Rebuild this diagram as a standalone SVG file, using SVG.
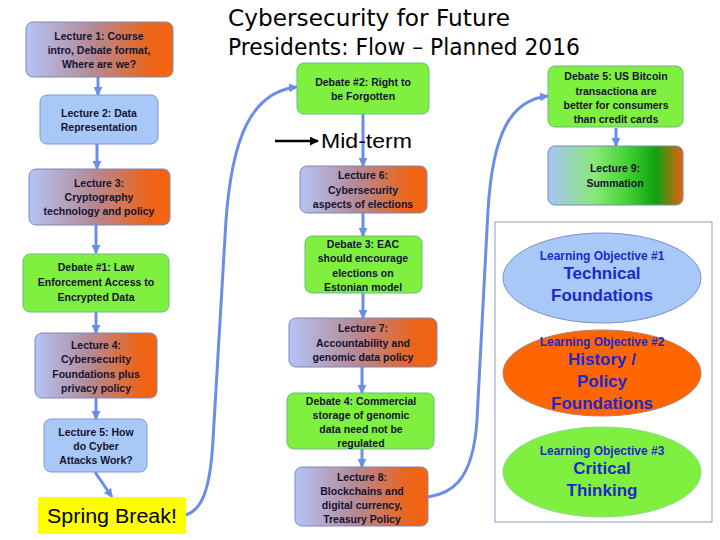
<svg xmlns="http://www.w3.org/2000/svg" width="720" height="540" viewBox="0 0 720 540">
<defs>
<linearGradient id="lec" x1="0" y1="0" x2="1" y2="0">
<stop offset="0" stop-color="#b4c4f6"/>
<stop offset="0.45" stop-color="#b48a96"/>
<stop offset="0.85" stop-color="#ec6418"/>
<stop offset="1" stop-color="#f46410"/>
</linearGradient>
<linearGradient id="sum" x1="0" y1="0" x2="1" y2="0">
<stop offset="0" stop-color="#a8c4f4"/>
<stop offset="0.35" stop-color="#88e878"/>
<stop offset="0.6" stop-color="#40d030"/>
<stop offset="0.8" stop-color="#10a010"/>
<stop offset="1" stop-color="#e86010"/>
</linearGradient>
<marker id="ah" viewBox="0 0 10 10" refX="9" refY="5" markerWidth="9" markerHeight="9" markerUnits="userSpaceOnUse" orient="auto">
<path d="M0,0 L10,5 L0,10 Z" fill="#6a8ee8"/>
</marker>
<marker id="bk" viewBox="0 0 10 10" refX="9" refY="5" markerWidth="9" markerHeight="9" markerUnits="userSpaceOnUse" orient="auto">
<path d="M0,0 L10,5 L0,10 Z" fill="#000"/>
</marker>
</defs>
<style>
.lec{fill:url(#lec);stroke:#7c88b8;stroke-width:1}
.blue{fill:#a8c8f8;stroke:#7c98d8;stroke-width:1}
.grn{fill:#80f040;stroke:#68b888;stroke-width:1}
.t{font-family:"Liberation Sans",Arial,sans-serif;font-size:10.5px;font-weight:bold;fill:#141430;text-anchor:middle}
.c{fill:none;stroke:#6a8ee8;stroke-width:3;marker-end:url(#ah)}
.lo{font-family:"Liberation Sans",Arial,sans-serif;font-weight:bold;fill:#2028c8;text-anchor:middle}
.ttl{font-family:"DejaVu Sans",sans-serif;font-size:23px;fill:#000}
</style>
<rect width="720" height="540" fill="#fff"/>

<g id="title">
<text class="ttl" x="228" y="26" textLength="282" lengthAdjust="spacingAndGlyphs">Cybersecurity for Future</text>
<text class="ttl" x="228" y="55" textLength="352" lengthAdjust="spacingAndGlyphs">Presidents: Flow – Planned 2016</text>
</g>

<g id="connectors">
<line class="c" x1="98" y1="77" x2="98" y2="95"/>
<line class="c" x1="97" y1="144" x2="97" y2="169"/>
<line class="c" x1="96" y1="225" x2="96" y2="253"/>
<line class="c" x1="96" y1="312" x2="96" y2="333"/>
<line class="c" x1="96" y1="398" x2="96" y2="419"/>
<line class="c" x1="95" y1="472" x2="112" y2="497"/>
<path class="c" d="M186,515 C200,510 210,495 213,440 L226,220 C232,140 250,92 297,87"/>
<line class="c" x1="363" y1="114" x2="363" y2="166"/>
<line class="c" x1="363" y1="213" x2="363" y2="236"/>
<line class="c" x1="363" y1="293" x2="363" y2="318"/>
<line class="c" x1="362" y1="367" x2="362" y2="393"/>
<line class="c" x1="362" y1="449" x2="362" y2="467"/>
<path class="c" d="M428,497 C448,494 473,485 477,420 L488,210 C493,130 512,100 548,96"/>
<line class="c" x1="616" y1="128" x2="616" y2="146"/>
<line x1="275" y1="141" x2="318" y2="141" stroke="#000" stroke-width="2.5" marker-end="url(#bk)"/>
</g>

<g id="midterm">
<text x="321" y="148" font-family="Liberation Sans,Arial,sans-serif" font-size="20" textLength="91" lengthAdjust="spacingAndGlyphs">Mid-term</text>
</g>

<g id="lecture1">
<rect class="lec" x="26" y="22" width="147" height="55" rx="7"/>
<text class="t" x="99" y="40">Lecture 1: Course</text>
<text class="t" x="99" y="54">intro, Debate format,</text>
<text class="t" x="99" y="68">Where are we?</text>
</g>
<g id="lecture2">
<rect class="blue" x="40" y="95" width="118" height="49" rx="7"/>
<text class="t" x="99" y="117">Lecture 2: Data</text>
<text class="t" x="99" y="131">Representation</text>
</g>
<g id="lecture3">
<rect class="lec" x="29" y="169" width="141" height="56" rx="7"/>
<text class="t" x="99" y="187">Lecture 3:</text>
<text class="t" x="99" y="201">Cryptography</text>
<text class="t" x="99" y="215">technology and policy</text>
</g>
<g id="debate1">
<rect class="grn" x="23" y="254" width="146" height="58" rx="7"/>
<text class="t" x="96" y="271">Debate #1: Law</text>
<text class="t" x="96" y="286">Enforcement Access to</text>
<text class="t" x="96" y="301">Encrypted Data</text>
</g>
<g id="lecture4">
<rect class="lec" x="35" y="333" width="122" height="65" rx="7"/>
<text class="t" x="96" y="349">Lecture 4:</text>
<text class="t" x="96" y="363">Cybersecurity</text>
<text class="t" x="96" y="378">Foundations plus</text>
<text class="t" x="96" y="392">privacy policy</text>
</g>
<g id="lecture5">
<rect class="blue" x="44" y="419" width="103" height="53" rx="7"/>
<text class="t" x="96" y="436">Lecture 5: How</text>
<text class="t" x="96" y="450">do Cyber</text>
<text class="t" x="96" y="464">Attacks Work?</text>
</g>
<g id="springbreak">
<rect x="38" y="497" width="148" height="37" fill="#ffff00"/>
<text x="112" y="523" font-family="Liberation Sans,Arial,sans-serif" font-size="21" text-anchor="middle" textLength="130" lengthAdjust="spacingAndGlyphs">Spring Break!</text>
</g>

<g id="debate2">
<rect class="grn" x="297" y="63" width="132" height="51" rx="7"/>
<text class="t" x="363" y="86">Debate #2: Right to</text>
<text class="t" x="363" y="100">be Forgotten</text>
</g>
<g id="lecture6">
<rect class="lec" x="300" y="166" width="127" height="47" rx="7"/>
<text class="t" x="363" y="179">Lecture 6:</text>
<text class="t" x="363" y="194">Cybersecurity</text>
<text class="t" x="363" y="208">aspects of elections</text>
</g>
<g id="debate3">
<rect class="grn" x="305" y="236" width="117" height="57" rx="7"/>
<text class="t" x="363" y="248">Debate 3: EAC</text>
<text class="t" x="363" y="262">should encourage</text>
<text class="t" x="363" y="277">elections on</text>
<text class="t" x="363" y="291">Estonian model</text>
</g>
<g id="lecture7">
<rect class="lec" x="289" y="318" width="148" height="49" rx="7"/>
<text class="t" x="363" y="332">Lecture 7:</text>
<text class="t" x="363" y="347">Accountability and</text>
<text class="t" x="363" y="361">genomic data policy</text>
</g>
<g id="debate4">
<rect class="grn" x="287" y="393" width="147" height="56" rx="7"/>
<text class="t" x="361" y="405">Debate 4: Commercial</text>
<text class="t" x="361" y="419">storage of genomic</text>
<text class="t" x="361" y="433">data need not be</text>
<text class="t" x="361" y="447">regulated</text>
</g>
<g id="lecture8">
<rect class="lec" x="295" y="467" width="133" height="59" rx="7"/>
<text class="t" x="362" y="481">Lecture 8:</text>
<text class="t" x="362" y="495">Blockchains and</text>
<text class="t" x="362" y="509">digital currency,</text>
<text class="t" x="362" y="523">Treasury Policy</text>
</g>

<g id="debate5">
<rect class="grn" x="548" y="66" width="135" height="61" rx="7"/>
<text class="t" x="616" y="80">Debate 5: US Bitcoin</text>
<text class="t" x="616" y="95">transactiona are</text>
<text class="t" x="616" y="109">better for consumers</text>
<text class="t" x="616" y="123">than credit cards</text>
</g>
<g id="lecture9">
<rect x="548" y="146" width="135" height="59" rx="7" fill="url(#sum)" stroke="#7c88b8"/>
<text class="t" x="615" y="172">Lecture 9:</text>
<text class="t" x="615" y="187">Summation</text>
</g>

<g id="objectives">
<rect x="495" y="222" width="217" height="300" fill="#fff" stroke="#8c9cc8" stroke-width="1"/>
<g id="lo1">
<ellipse cx="602" cy="278" rx="99" ry="45" fill="#a8c8f8" stroke="#7c90c8"/>
<text class="lo" x="602" y="260" font-size="12">Learning Objective #1</text>
<text class="lo" x="602" y="279" font-size="17">Technical</text>
<text class="lo" x="602" y="301" font-size="17">Foundations</text>
</g>
<g id="lo2">
<ellipse cx="602" cy="373" rx="99" ry="43" fill="#ff6600" stroke="#b08070"/>
<text class="lo" x="602" y="346" font-size="12">Learning Objective #2</text>
<text class="lo" x="602" y="365" font-size="17">History /</text>
<text class="lo" x="602" y="387" font-size="17">Policy</text>
<text class="lo" x="602" y="409" font-size="17">Foundations</text>
</g>
<g id="lo3">
<ellipse cx="602" cy="472" rx="99" ry="45" fill="#80f040" stroke="#90d890"/>
<text class="lo" x="602" y="455" font-size="12">Learning Objective #3</text>
<text class="lo" x="602" y="474" font-size="17">Critical</text>
<text class="lo" x="602" y="496" font-size="17">Thinking</text>
</g>
</g>
</svg>
